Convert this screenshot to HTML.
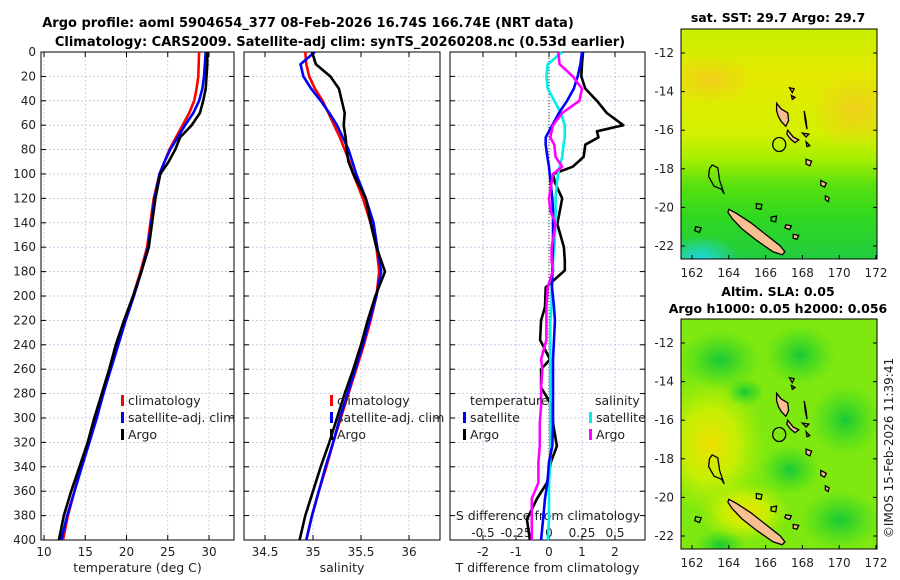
<!DOCTYPE html>
<html><head><meta charset="utf-8">
<style>
html,body{margin:0;padding:0;background:#fff;}
svg{display:block;font-family:"DejaVu Sans","Liberation Sans",sans-serif;}
</style></head>
<body>
<svg id="fig" width="900" height="580" viewBox="0 0 900 580" xmlns="http://www.w3.org/2000/svg">
<defs>
<linearGradient id="sstg" x1="0" y1="0" x2="0" y2="1">
<stop offset="0" stop-color="#c8ee00"/><stop offset="0.2" stop-color="#e4ea00"/><stop offset="0.45" stop-color="#d4f000"/>
<stop offset="0.56" stop-color="#a8f000"/><stop offset="0.68" stop-color="#58e010"/><stop offset="0.82" stop-color="#30d820"/><stop offset="1" stop-color="#22cc40"/>
</linearGradient>
<radialGradient id="orng"><stop offset="0" stop-color="#f2c820" stop-opacity="0.8"/><stop offset="1" stop-color="#f2c820" stop-opacity="0"/></radialGradient>
<radialGradient id="cyng"><stop offset="0" stop-color="#20d8e0"/><stop offset="1" stop-color="#20d8e0" stop-opacity="0"/></radialGradient>
<radialGradient id="yelg"><stop offset="0" stop-color="#f0e000"/><stop offset="0.5" stop-color="#d8f000" stop-opacity="0.8"/><stop offset="1" stop-color="#c0f000" stop-opacity="0"/></radialGradient>
<radialGradient id="grng"><stop offset="0" stop-color="#18c838"/><stop offset="1" stop-color="#30d820" stop-opacity="0"/></radialGradient>
<clipPath id="clipTop"><rect x="681" y="29" width="196" height="230"/></clipPath>
<clipPath id="clipBot"><rect x="681" y="319" width="196" height="230"/></clipPath>
</defs>
</svg>
<script>
// ---------- DATA ----------
const depths = [0,10,20,30,40,50,60,70,80,90,100,120,140,160,180,200,220,240,260,280,300,320,340,360,380,400];
const tempClim = [28.8,28.75,28.7,28.5,28.2,27.6,26.8,26.0,25.2,24.6,24.0,23.3,22.9,22.5,21.7,20.8,19.8,18.9,18.0,17.1,16.2,15.4,14.5,13.7,12.9,12.3];
const tempSat = [29.6,29.5,29.4,29.2,28.8,28.1,27.1,26.2,25.3,24.6,24.0,23.4,23.0,22.6,21.8,20.9,19.9,19.0,18.1,17.2,16.4,15.5,14.6,13.7,12.8,12.1];
const tempArgo = [29.8,29.8,29.7,29.6,29.3,28.9,27.9,26.5,25.9,25.1,24.1,23.5,23.1,22.7,21.8,20.8,19.7,18.7,17.9,17.0,16.1,15.3,14.3,13.3,12.4,11.8];
const salClim = [34.92,34.93,34.96,35.02,35.1,35.16,35.22,35.28,35.33,35.38,35.42,35.52,35.6,35.66,35.69,35.66,35.6,35.53,35.45,35.37,35.29,35.21,35.14,35.06,34.99,34.93];
const salSat = [35.02,34.87,34.9,34.98,35.08,35.17,35.25,35.31,35.37,35.41,35.45,35.55,35.63,35.67,35.71,35.66,35.59,35.52,35.44,35.36,35.28,35.21,35.13,35.06,34.99,34.93];
const salArgo = [34.99,35.03,35.18,35.27,35.3,35.33,35.32,35.34,35.35,35.37,35.42,35.55,35.6,35.66,35.75,35.65,35.57,35.5,35.42,35.33,35.25,35.17,35.08,35.0,34.92,34.86];
const diffDepths = [0,10,20,30,40,50,60,65,70,76,86,94,100,107,120,130,141,160,171,179,193,209,220,236,252,260,275,290,304,323,336,353,366,383,400];
const tdiffSat = [1.0,0.95,0.87,0.75,0.55,0.3,0.1,0.0,-0.1,-0.1,-0.05,0.0,0.02,0.05,0.1,0.12,0.12,0.12,0.1,0.1,0.09,0.15,0.18,0.15,0.12,0.12,0.12,0.12,0.12,0.1,0.0,-0.05,-0.12,-0.18,-0.24];
const tdiffArgo = [1.03,1.0,0.98,1.1,1.45,1.75,2.25,1.45,1.5,1.1,1.05,0.72,0.12,0.18,0.4,0.33,0.25,0.45,0.48,0.48,-0.1,-0.12,-0.24,-0.27,0.03,-0.24,-0.24,0.09,0.12,0.24,0.06,-0.06,-0.36,-0.67,-0.58];
const sdiffSat = [0.1,-0.01,-0.02,-0.01,0.04,0.09,0.12,0.12,0.12,0.11,0.1,0.08,0.07,0.06,0.05,0.05,0.05,0.04,0.03,0.03,0.02,0.02,0.01,0.01,0.01,0.01,0.01,0.01,0.01,0.01,0.01,0.0,0.0,0.0,-0.01];
const sdiffArgo = [0.07,0.08,0.18,0.25,0.23,0.1,0.03,0.02,0.01,0.04,0.05,0.1,0.03,0.02,0.0,0.01,0.05,0.02,0.02,0.03,-0.01,-0.02,-0.02,-0.02,-0.06,-0.05,-0.06,-0.06,-0.07,-0.07,-0.08,-0.08,-0.13,-0.13,-0.13];
const depthTicks = [0,20,40,60,80,100,120,140,160,180,200,220,240,260,280,300,320,340,360,380,400];
const tempTicks = [10,15,20,25,30];
const salTicks = [34.5,35,35.5,36];
const salTickLabels = ["34.5","35","35.5","36"];
const tdTicks = [-2,-1,0,1,2];
const sdTicks = [-0.5,-0.25,0,0.25,0.5];
const sdTickLabels = ["-0.5","-0.25","0","0.25","0.5"];
const latTicks = [-12,-14,-16,-18,-20,-22];
const lonTicks = [162,164,166,168,170,172];

// ---------- SCALES ----------
const yD = d => 52 + d*1.22;
const xT = t => 44 + (t-10)*8.25;
const xS = s => 265 + (s-34.5)*96;
const xTd = v => 549 + v*33;
const xSd = v => 549 + v*132;
const lonX = l => 692 + (l-162)*18.4;
const latY = (la, off) => 53 + off + (-12-la)*19.3;

const NS = "http://www.w3.org/2000/svg";
const svg = document.getElementById('fig');
function mk(tag, attrs, parent){
  const el = document.createElementNS(NS, tag);
  for (const k in attrs) el.setAttribute(k, attrs[k]);
  (parent||svg).appendChild(el);
  return el;
}
function nm(el, name){
  
  
  return el;
}
function txt(x,y,s,size,anchor,extra,parent){
  const t = mk('text', Object.assign({x:x,y:y,'font-size':size,'text-anchor':anchor||'start',fill:'#222'}, extra||{}), parent);
  t.textContent = s;
  return t;
}

// ---------- TITLES ----------
nm(txt(308,27,"Argo profile: aoml 5904654_377 08-Feb-2026 16.74S 166.74E (NRT data)",13,'middle',{'font-weight':'bold',fill:'#000'}),'title-line-1');
nm(txt(340,46,"Climatology: CARS2009. Satellite-adj clim: synTS_20260208.nc (0.53d earlier)",13,'middle',{'font-weight':'bold',fill:'#000'}),'title-line-2');

// ---------- PANELS ----------
const panels = [
  {x0:41,x1:234,name:'temperature-panel',ticks:tempTicks,labels:tempTicks.map(String),sx:xT,xlabel:'temperature (deg C)'},
  {x0:244,x1:440,name:'salinity-panel',ticks:salTicks,labels:salTickLabels,sx:xS,xlabel:'salinity'},
  {x0:450,x1:645,name:'difference-panel',ticks:tdTicks,labels:tdTicks.map(String),sx:xTd,xlabel:'T difference from climatology'}
];
panels.forEach((p,pi)=>{
  const g = nm(mk('g',{}), p.name);
  // grid
  depthTicks.forEach(d=>{
    const l = nm(mk('line',{x1:p.x0,x2:p.x1,y1:yD(d),y2:yD(d),stroke:'#b9c3e3','stroke-width':0.8,'stroke-dasharray':'2,2'},g),'depth-gridline');
  });
  p.ticks.forEach((t,i)=>{
    nm(mk('line',{x1:p.sx(t),x2:p.sx(t),y1:52,y2:540,stroke:'#d8c0c0','stroke-width':0.8,'stroke-dasharray':'2,2'},g),'x-gridline');
  });
  if(pi===2){
    sdTicks.forEach(t=>{ nm(mk('line',{x1:xSd(t),x2:xSd(t),y1:52,y2:540,stroke:'#b9c3e3','stroke-width':0.8,'stroke-dasharray':'2,2'},g),'s-gridline'); });
    nm(mk('line',{x1:549,x2:549,y1:52,y2:540,stroke:'#333','stroke-width':1,'stroke-dasharray':'1,2'},g),'zero-line');
  }
  nm(mk('rect',{x:p.x0,y:52,width:p.x1-p.x0,height:488,fill:'none',stroke:'#000','stroke-width':1},g),'panel-frame');
  depthTicks.forEach(d=>{
    mk('line',{x1:p.x0,x2:p.x0+5,y1:yD(d),y2:yD(d),stroke:'#000'},g);
    mk('line',{x1:p.x1-5,x2:p.x1,y1:yD(d),y2:yD(d),stroke:'#000'},g);
  });
  p.ticks.forEach((t,i)=>{
    mk('line',{x1:p.sx(t),x2:p.sx(t),y1:540,y2:535,stroke:'#000'},g);
    mk('line',{x1:p.sx(t),x2:p.sx(t),y1:52,y2:57,stroke:'#000'},g);
    nm(txt(p.sx(t),556,p.labels[i],12,'middle',{},g),'x-tick-label');
  });
  nm(txt((p.x0+p.x1)/2+(pi===2?0:0),572,p.xlabel,12.5,'middle',{},g),'x-axis-title');
});
depthTicks.forEach(d=>{ nm(txt(36,yD(d)+4,String(d),12,'end'),'depth-tick-label'); });
// S diff axis labels inside panel 3
nm(txt(548,520,"S difference from climatology",12.5,'middle'),'s-diff-axis-title');
sdTicks.forEach((t,i)=>{ nm(txt(xSd(t),537,sdTickLabels[i],12,'middle'),'s-diff-tick-label'); });

// ---------- SERIES ----------
function series(xs, ds, sx, color, name){
  const pts = xs.map((v,i)=> sx(v).toFixed(1)+','+yD(ds[i]).toFixed(1)).join(' ');
  const el = mk('polyline',{points:pts,fill:'none',stroke:color,'stroke-width':2.6,'stroke-linejoin':'round'});
  nm(el, name);
}
series(tempClim, depths, xT, '#ff0000', 'temp-climatology-line');
series(tempSat, depths, xT, '#0000ff', 'temp-satellite-line');
series(tempArgo, depths, xT, '#000000', 'temp-argo-line');
series(salClim, depths, xS, '#ff0000', 'sal-climatology-line');
series(salSat, depths, xS, '#0000ff', 'sal-satellite-line');
series(salArgo, depths, xS, '#000000', 'sal-argo-line');
series(tdiffArgo, diffDepths, xTd, '#000000', 'tdiff-argo-line');
series(sdiffSat, diffDepths, xSd, '#00eeee', 'sdiff-satellite-line');
series(tdiffSat, diffDepths, xTd, '#0000ff', 'tdiff-satellite-line');
series(sdiffArgo, diffDepths, xSd, '#ff00ff', 'sdiff-argo-line');

// ---------- LEGENDS ----------
function legend(x,y,color,label,name){
  const g = nm(mk('g',{}), name);
  mk('rect',{x:x,y:y-10,width:3,height:11,fill:color},g);
  txt(x+7,y,label,12.5,'start',{},g);
}
legend(121,405,'#ff0000','climatology','legend-climatology');
legend(121,422,'#0000ff','satellite-adj. clim','legend-satellite');
legend(121,439,'#000000','Argo','legend-argo');
legend(330,405,'#ff0000','climatology','legend-sal-climatology');
legend(330,422,'#0000ff','satellite-adj. clim','legend-sal-satellite');
legend(330,439,'#000000','Argo','legend-sal-argo');
nm(txt(470,405,'temperature',12.5,'start'),'legend-temperature-heading');
legend(463,422,'#0000ff','satellite','legend-tdiff-satellite');
legend(463,439,'#000000','Argo','legend-tdiff-argo');
nm(txt(595,405,'salinity',12.5,'start'),'legend-salinity-heading');
legend(589,422,'#00eeee','satellite','legend-sdiff-satellite');
legend(589,439,'#ff00ff','Argo','legend-sdiff-argo');

// ---------- MAPS ----------
const islands = [
 [[164.0,-20.1],[164.4,-20.3],[165.2,-20.8],[166.0,-21.4],[166.8,-22.0],[167.05,-22.3],[166.9,-22.45],[166.4,-22.3],[165.5,-21.7],[164.7,-21.1],[164.2,-20.6],[163.95,-20.25]],
 [[166.6,-14.6],[166.85,-14.9],[167.2,-15.1],[167.25,-15.5],[167.1,-15.8],[166.85,-15.55],[166.7,-15.3],[166.6,-15.0]],
 [[167.2,-16.0],[167.5,-16.35],[167.8,-16.5],[167.6,-16.65],[167.35,-16.45],[167.15,-16.2]],
 [[168.2,-17.5],[168.5,-17.6],[168.4,-17.85],[168.2,-17.75]],
 [[168.0,-16.15],[168.35,-16.2],[168.2,-16.35]],
 [[168.2,-16.6],[168.4,-16.8],[168.25,-16.85]],
 [[169.0,-18.6],[169.3,-18.75],[169.2,-18.95],[169.0,-18.85]],
 [[169.25,-19.4],[169.45,-19.5],[169.4,-19.7],[169.25,-19.6]],
 [[167.1,-20.9],[167.4,-20.95],[167.3,-21.15],[167.05,-21.05]],
 [[167.5,-21.4],[167.8,-21.45],[167.7,-21.65],[167.5,-21.6]],
 [[167.3,-13.8],[167.55,-13.85],[167.45,-14.05]],
 [[167.4,-14.2],[167.6,-14.3],[167.45,-14.4]]
];
const outlines = [
 [[163.1,-17.8],[163.4,-17.95],[163.5,-18.6],[163.75,-19.3],[163.6,-19.05],[163.2,-18.9],[162.9,-18.4],[162.95,-18.0]],
 [[165.5,-19.8],[165.8,-19.85],[165.75,-20.1],[165.5,-20.05]],
 [[166.3,-20.5],[166.6,-20.45],[166.55,-20.75],[166.3,-20.7]],
 [[162.2,-21.0],[162.5,-21.05],[162.4,-21.3],[162.15,-21.2]],
 [[168.1,-15.0],[168.2,-15.5],[168.25,-15.95],[168.15,-15.5]]
];
function drawMap(off, clipId, name, bgFn){
  const g = nm(mk('g',{}), name);
  const inner = mk('g',{'clip-path':'url(#'+clipId+')'},g);
  bgFn(inner);
  islands.forEach(isl=>{
    const pts = isl.map(p=>lonX(p[0]).toFixed(1)+','+latY(p[1],off).toFixed(1)).join(' ');
    nm(mk('polygon',{points:pts,fill:'#f8c090',stroke:'#000','stroke-width':1.3},inner),'island');
  });
  outlines.forEach(isl=>{
    const pts = isl.map(p=>lonX(p[0]).toFixed(1)+','+latY(p[1],off).toFixed(1)).join(' ');
    nm(mk('polygon',{points:pts,fill:'none',stroke:'#000','stroke-width':1.3},inner),'reef-outline');
  });
  nm(mk('ellipse',{cx:lonX(166.74),cy:latY(-16.74,off),rx:6.5,ry:7,fill:'none',stroke:'#000','stroke-width':1.3},inner),'float-location-marker');
  nm(mk('rect',{x:681,y:29+off,width:196,height:230,fill:'none',stroke:'#000','stroke-width':1},g),'map-frame');
  latTicks.forEach(la=>{
    const y = latY(la,off);
    mk('line',{x1:681,x2:685,y1:y,y2:y,stroke:'#000'},g);
    mk('line',{x1:873,x2:877,y1:y,y2:y,stroke:'#000'},g);
    nm(txt(674,y+4,String(la),12,'end',{},g),'lat-tick-label');
  });
  lonTicks.forEach(lo=>{
    const x = lonX(lo);
    mk('line',{x1:x,x2:x,y1:259+off,y2:255+off,stroke:'#000'},g);
    nm(txt(x,277+off,String(lo),12,'middle',{},g),'lon-tick-label');
  });
}
drawMap(0,'clipTop','sst-map',g=>{
  mk('rect',{x:681,y:29,width:196,height:230,fill:'url(#sstg)'},g);
  mk('ellipse',{cx:710,cy:80,rx:45,ry:25,fill:'url(#orng)'},g);
  mk('ellipse',{cx:855,cy:110,rx:45,ry:40,fill:'url(#orng)'},g);
  mk('ellipse',{cx:700,cy:258,rx:40,ry:22,fill:'url(#cyng)'},g);
});
drawMap(290,'clipBot','sla-map',g=>{
  mk('rect',{x:681,y:319,width:196,height:230,fill:'#7ee810'},g);
  mk('ellipse',{cx:710,cy:445,rx:55,ry:70,fill:'url(#yelg)'},g);
  mk('ellipse',{cx:745,cy:512,rx:45,ry:30,fill:'url(#yelg)'},g);
  mk('ellipse',{cx:720,cy:360,rx:40,ry:30,fill:'url(#grng)'},g);
  mk('ellipse',{cx:800,cy:355,rx:35,ry:30,fill:'url(#grng)'},g);
  mk('ellipse',{cx:745,cy:392,rx:20,ry:14,fill:'url(#grng)'},g);
  mk('ellipse',{cx:790,cy:470,rx:30,ry:25,fill:'url(#grng)'},g);
  mk('ellipse',{cx:845,cy:420,rx:35,ry:35,fill:'url(#grng)'},g);
  mk('ellipse',{cx:840,cy:520,rx:40,ry:30,fill:'url(#grng)'},g);
  mk('ellipse',{cx:720,cy:545,rx:25,ry:15,fill:'url(#grng)'},g);
});
nm(txt(778,22,"sat. SST: 29.7 Argo: 29.7",12.5,'middle',{'font-weight':'bold',fill:'#000'}),'sst-map-title');
nm(txt(778,296,"Altim. SLA: 0.05",12.5,'middle',{'font-weight':'bold',fill:'#000'}),'sla-map-title');
nm(txt(778,313,"Argo h1000: 0.05 h2000: 0.056",12.5,'middle',{'font-weight':'bold',fill:'#000'}),'sla-map-subtitle');
nm(txt(0,0,"©IMOS 15-Feb-2026 11:39:41",12,'middle',{transform:'translate(893,448) rotate(-90)'}),'imos-timestamp');
</script>
</body></html>
